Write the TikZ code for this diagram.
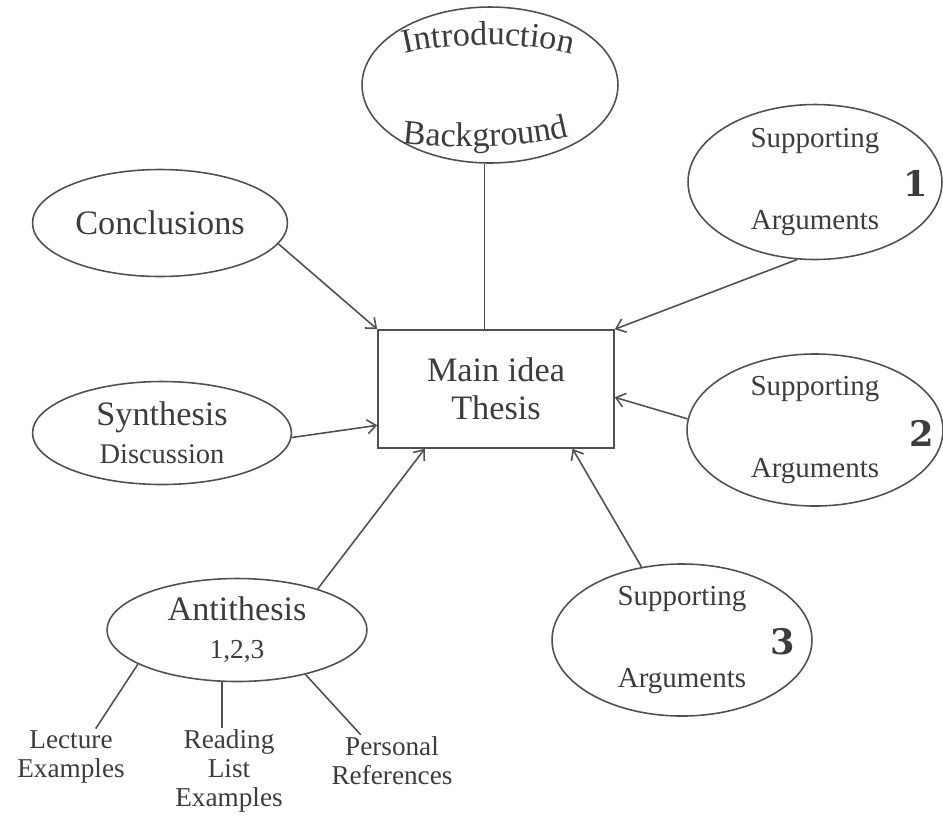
\documentclass[tikz,border=0pt]{standalone}
\usepackage{fontspec}
\setmainfont{Liberation Serif}
\newfontfamily\numfont{DejaVu Serif}
\usepackage{tikz}
\usetikzlibrary{shapes.geometric, arrows.meta, decorations.text}
\definecolor{ink}{HTML}{3C3C3C}
\definecolor{linecol}{HTML}{505050}
\newcommand{\bigtxt}{\fontsize{19.5}{21.6}\selectfont}
\newcommand{\suptxt}{\fontsize{16.5}{46.7}\selectfont}
\newcommand{\leaftxt}{\fontsize{15.5}{16.5}\selectfont}
\newcommand{\numtxt}{\numfont\bfseries\fontsize{20}{20}\selectfont}

\begin{document}
\begin{tikzpicture}[x=0.02cm, y=-0.02cm, >={Straight Barb[length=5pt,width=8pt]},
  bubble/.style={ellipse, draw=linecol, line width=.9pt, inner sep=0pt, text=ink, align=center},
  leaf/.style={text=ink, align=center, font=\leaftxt, inner sep=1pt},
  num/.style={text=ink, font=\numtxt},
  link/.style={draw=linecol, line width=.9pt}]
\useasboundingbox (0,0) rectangle (943,823);
\node (main) at (496,389) [draw=linecol, line width=.9pt, minimum width=4.72cm, minimum height=2.36cm, text=ink, align=center, font=\bigtxt]{Main idea\\Thesis};
\node (intro) at (490,85) [bubble, minimum width=5.12cm, minimum height=3.12cm]{};
\path [decorate, decoration={text along path, text={|\bigtxt|Introduction}, text align=center, text color=ink}] (395,56) .. controls (440,42) and (530,40) .. (582,57);
\path [decorate, decoration={text along path, text={|\bigtxt|Background}, text align=center, text color=ink}] (395,142) .. controls (440,149) and (530,149) .. (576,134);
\node (concl) at (160,223) [bubble, minimum width=5.1cm, minimum height=2.14cm, font=\bigtxt]{Conclusions};
\node (synth) at (162,433) [bubble, minimum width=5.18cm, minimum height=2.06cm, font=\bigtxt]{Synthesis\\{\fontsize{16.2}{21.6}\selectfont Discussion}};
\node (anti) at (237,630) [bubble, minimum width=5.2cm, minimum height=2.06cm, font=\bigtxt]{Antithesis\\{\fontsize{15.6}{22.8}\selectfont 1,2,3}};
\node (sup1) at (815,182) [bubble, minimum width=5.08cm, minimum height=3.1cm, font=\suptxt]{Supporting\\Arguments};
\node (sup2) at (815,430) [bubble, minimum width=5.12cm, minimum height=3.02cm, font=\suptxt]{Supporting\\Arguments};
\node (sup3) at (682,640) [bubble, minimum width=5.2cm, minimum height=3.02cm, font=\suptxt]{Supporting\\Arguments};
\node (n1) at (916,183) [num]{1};
\node (n2) at (922,433) [num]{2};
\node (n3) at (783,642) [num]{3};
\node (lect) at (71,757) [leaf]{Lecture\\Examples};
\node (read) at (229,771) [leaf]{Reading\\List\\Examples};
\node (pers) at (392,761) [leaf]{Personal\\References};
% links to the thesis box
\draw [link] (intro.-94) -- (intro.-94 |- main.north);
\draw [link, ->] (concl.-10) -- (main.north west);
\draw [link, ->] (sup1.-103) -- (main.north east);
\draw [link, ->] (sup2.175) -- (main.-4);
\draw [link, ->] (synth.-2) -- (main.197);
\draw [link, ->] (anti.27) -- (main.-140);
\draw [link, ->] (sup3.119) -- (main.-38);
% antithesis sources
\draw [link] (anti.-161) -- (lect.49);
\draw [link] (anti.-106) -- (anti.-106 |- read.north);
\draw [link] (anti.-33) -- (pers.140);
\end{tikzpicture}
\end{document}
